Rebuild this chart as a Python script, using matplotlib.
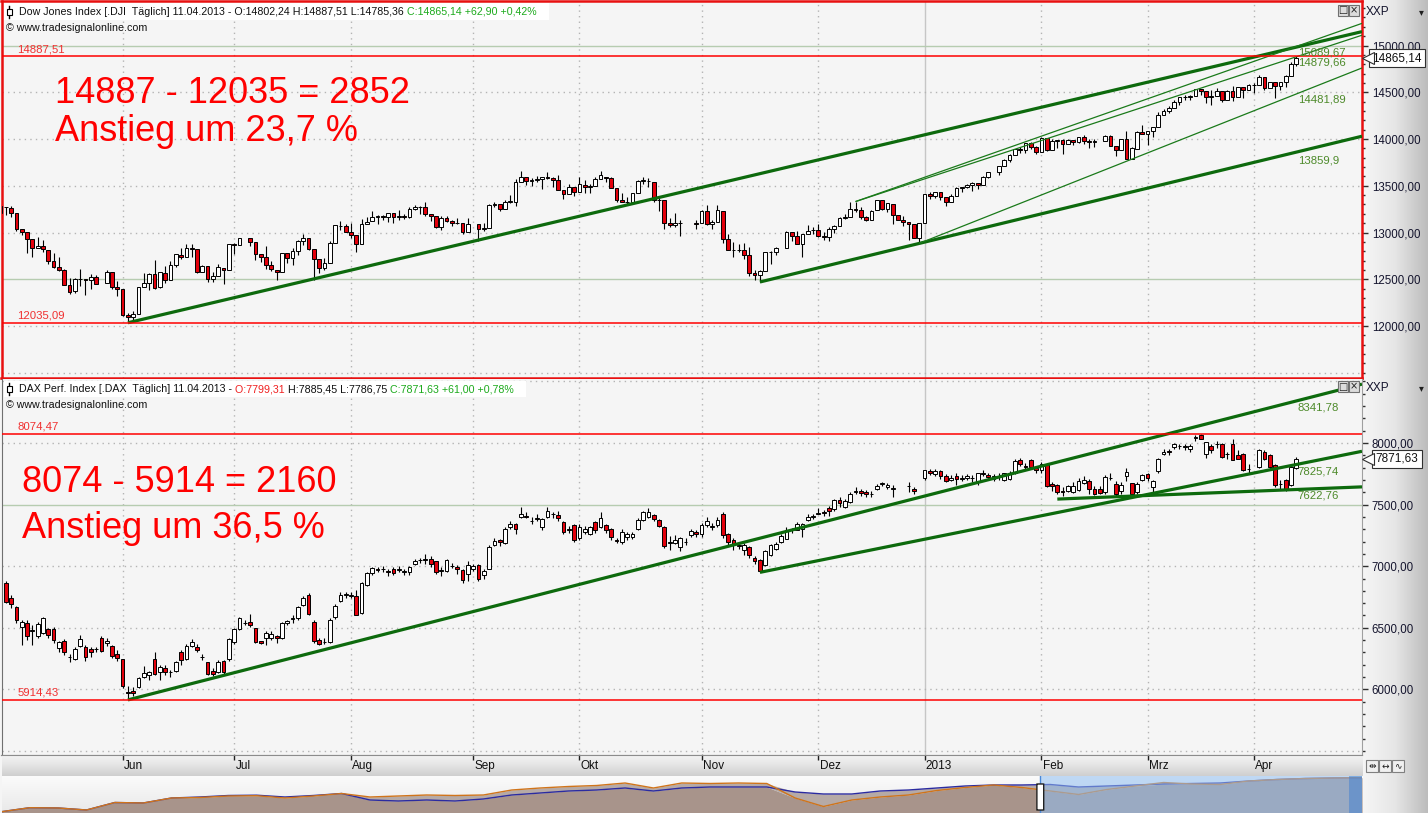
import numpy as np
import pandas as pd
import matplotlib
matplotlib.use('Agg')
import matplotlib.pyplot as plt
from matplotlib.patches import Rectangle, FancyBboxPatch
from matplotlib.ticker import FixedLocator, FuncFormatter
from matplotlib.colors import LinearSegmentedColormap
import matplotlib.transforms as mtrans

plt.rcParams['font.family'] = ['Liberation Sans', 'DejaVu Sans']

# ------------------------------------------------------------------ data
start_date, end_date = '2012-05-01', '2013-04-11'
closed_both = ['2012-12-25', '2013-01-01', '2013-03-29']
month_labels = ['Jun', 'Jul', 'Aug', 'Sep', 'Okt', 'Nov', 'Dez', '2013', 'Feb', 'Mrz', 'Apr']

N = None
dji_open = ([13214,13276,13266,13204,13036,13006,12929,12836,12853,12818,12694,12631,12597,12444,12370,12504,12501,12496,12528,N,12457,12576,12418]
 + [12391,12118,12100,12128,12416,12460,12555,12413,12572,12497,12652,12762,12743,12837,12823,12574,12638,12502,12535,12623,12604]
 + [12879,12871,N,12941,12895,12770,12736,12653,12604,12573,12776,12727,12805,12909,12941,12821,12720,12617,12677,12889,13075,13072]
 + [13010,12974,12880,13096,13118,13166,13174,13163,13206,13171,13172,13166,13251,13274,13272,13203,13172,13055,13158,13123,13103,13105,13002]
 + [N,13090,13036,13046,13292,13306,13254,13323,13329,13540,13591,13553,13563,13576,13597,13578,13559,13457,13413,13485]
 + [13437,13513,13482,13494,13569,13594,13583,13473,13346,13326,13329,13423,13551,13555,13545,13344,13343,13104,13078,13102,N,N,13107]
 + [13099,13232,13092,13112,13228,12932,12811,12815,12811,12757,12570,12542,12590,12794,12788,N,12837,13007,12966,12876,12987,13023]
 + [13027,12966,12953,13033,13073,13155,13169,13247,13244,13170,13135,13236,13350,13250,13308,13190,13138,13114,13094,12938]
 + [13104,13413,13391,13436,13384,13329,13391,13472,13488,13506,13533,13511,13596,N,13650,13712,13779,13825,13895,13881,13954,13910]
 + [13861,14006,13880,13979,13987,13945,13993,13970,14018,13981,13973,N,13982,14035,13928,13881,14001,13784,13897,14076]
 + [14054,14090,14127,14253,14296,14329,14397,14448,14450,14455,14539,14511,14451,14456,14511,14422,14512,14448,14558,14527]
 + [14578,14573,14662,14551,14606,14565,14614,14675,14802])
dji_high = ([13338,13276,13283,13204,13043,13006,12929,12950,12920,12818,12781,12743,12615,12510,12517,12614,12501,12555,12547,N,12603,12576,12485]
 + [12391,12140,12160,12418,12571,12562,12711,12582,12646,12698,12769,12836,12872,12880,12823,12656,12638,12574,12658,12623,12880]
 + [12887,12943,N,12941,12895,12771,12853,12698,12604,12785,12776,12833,12925,12980,12941,12821,12720,12726,12906,13079,13118,13094]
 + [13099,12974,13140,13166,13229,13187,13189,13208,13206,13241,13195,13273,13290,13284,13330,13203,13172,13177,13182,13138,13158,13105,13157]
 + [N,13094,13100,13302,13324,13306,13348,13397,13573,13653,13591,13583,13608,13597,13647,13590,13620,13457,13522,13485]
 + [13598,13567,13518,13594,13661,13594,13592,13478,13422,13380,13426,13562,13591,13588,13545,13368,13343,13155,13205,13132,N,N,13129]
 + [13244,13290,13138,13290,13228,12988,12900,12872,12891,12848,12603,12598,12796,12801,12847,N,13011,13007,13020,12985,13079,13057]
 + [13088,13007,13062,13085,13161,13202,13331,13331,13268,13174,13240,13353,13351,13311,13308,13190,13178,13114,13094,13105]
 + [13412,13430,13436,13436,13384,13409,13492,13488,13520,13542,13533,13606,13651,N,13713,13790,13843,13896,13915,13961,13967,13923]
 + [14020,14006,14002,13988,13995,14003,13993,14026,14039,14000,14004,N,14046,14040,13928,14001,14084,13913,14085,14150]
 + [14090,14131,14286,14320,14354,14414,14448,14467,14474,14539,14539,14511,14520,14546,14512,14522,14563,14560,14558,14585]
 + [14598,14684,14663,14611,14606,14614,14687,14826,14888])
dji_low = ([13175,13185,13170,13021,12970,12784,12743,12830,12787,12662,12619,12586,12442,12343,12358,12433,12327,12400,12450,N,12456,12393,12321]
 + [12107,12035,12061,12128,12416,12390,12399,12411,12463,12488,12630,12718,12742,12733,12567,12574,12475,12470,12535,12449,12604]
 + [12773,12871,N,12853,12707,12688,12609,12588,12492,12573,12675,12654,12761,12868,12815,12492,12570,12604,12677,12889,13029,13003]
 + [12940,12789,12880,13096,13118,13094,13139,13112,13105,13134,13140,13151,13237,13199,13176,13120,13044,13026,13115,13067,13088,12986,13002]
 + [N,12905,13014,13046,13272,13228,13254,13317,13284,13540,13508,13497,13538,13465,13574,13490,13457,13363,13413,13388]
 + [13437,13420,13422,13494,13568,13543,13473,13327,13326,13293,13329,13423,13522,13490,13326,13235,13035,13063,13060,12965,N,N,13038]
 + [13099,13079,13040,13112,12883,12811,12743,12796,12719,12536,12493,12471,12590,12661,12763,N,12837,12909,12878,12743,12987,12979]
 + [12955,12917,12912,12994,13073,13144,13169,13221,13144,13122,13135,13236,13245,13219,13093,13138,13069,12924,12938,12884]
 + [13104,13358,13368,13343,13279,13329,13391,13430,13474,13441,13468,13511,13586,N,13613,13712,13756,13825,13849,13852,13889,13844]
 + [13861,13873,13880,13904,13836,13943,13931,13960,13952,13900,13918,N,13981,13927,13822,13881,13784,13784,13897,14053]
 + [13937,14019,14127,14253,14280,14329,14369,14414,14417,14455,14470,14384,14368,14456,14394,14422,14405,14448,14439,14527]
 + [14497,14573,14524,14545,14444,14528,14560,14675,14785])
dji_close = ([13279,13268,13206,13038,13008,12932,12835,12855,12820,12695,12632,12598,12442,12369,12504,12502,12496,12529,12454,N,12580,12419,12393]
 + [12118,12101,12127,12414,12461,12554,12411,12573,12496,12651,12767,12742,12837,12824,12574,12641,12503,12535,12627,12602,12880]
 + [12871,12943,N,12897,12772,12736,12653,12605,12573,12777,12727,12806,12909,12943,12822,12721,12617,12676,12888,13076,13073,13009]
 + [12976,12878,13096,13117,13169,13175,13165,13208,13170,13172,13164,13250,13275,13271,13203,13172,13057,13158,13124,13103,13107,13001,13091]
 + [N,13036,13047,13292,13307,13254,13323,13333,13540,13593,13553,13565,13577,13597,13579,13559,13458,13413,13485,13437]
 + [13515,13482,13495,13575,13610,13583,13473,13344,13326,13329,13424,13551,13557,13548,13343,13345,13102,13077,13103,13107,N,N,13096]
 + [13232,13093,13112,13245,12932,12811,12815,12815,12756,12570,12542,12588,12795,12788,12836,N,13010,12967,12878,12985,13021,13025]
 + [12965,12951,13034,13074,13155,13169,13248,13245,13170,13135,13235,13351,13251,13311,13190,13139,13114,13096,12938,13104]
 + [13412,13391,13435,13384,13329,13390,13471,13488,13507,13535,13511,13596,13650,N,13712,13779,13825,13896,13882,13954,13910,13861]
 + [14010,13880,13979,13987,13944,13993,13971,14019,13982,13973,13981,N,14036,13928,13881,14001,13784,13900,14076,14054]
 + [14090,14128,14254,14296,14329,14397,14448,14450,14455,14539,14514,14452,14456,14512,14421,14512,14448,14560,14527,14579]
 + [14573,14662,14550,14607,14565,14614,14673,14802,14865])

dax_open = ([N,6860,6745,6672,6505,6540,6475,6430,6455,6490,6490,6335,6395,6265,6246,6350,6346,6327,6325,6416,6380,6354,6287]
 + [6246,5975,5990,6021,6102,6118,6246,6137,6173,6140,6151,6300,6246,6354,6346,6262,6219,6151,6137,6227,6243]
 + [6386,6494,6540,6550,6496,6390,6414,6420,6430,6420,6537,6575,6578,6686,6767,6550,6400,6385,6384,6586,6716,6770]
 + [6755,6757,6620,6851,6945,6975,6975,6965,6978,6970,6955,6950,7020,7050,7050,7060,7040,6960,6960,7005,6995,6968,6935]
 + [6975,7008,6927,6981,7176,7210,7189,7319,7346,7400,7410,7370,7380,7319,7400,7420,7413,7359,7305,7332]
 + [7225,7278,7265,7359,7319,7332,7305,7216,7197,7238,7240,7300,7373,7400,7413,7373,7319,7185,7189,7157,7200,7257,7280]
 + [7259,7332,7320,7332,7427,7265,7216,7165,7130,7157,7067,7048,7008,7089,7143,7197,7224,7295,7297,7305,7373,7400]
 + [7427,7440,7475,7467,7540,7481,7521,7600,7610,7600,7590,7625,7665,7643,7630,N,N,7650,7630,N]
 + [7720,7770,7750,7770,7730,7700,7730,7710,7720,7720,7684,7754,7740,7705,7725,7700,7712,7754,7860,7815,7860,7800]
 + [7780,7833,7670,7660,7610,7610,7600,7620,7673,7695,7630,7630,7600,7720,7670,7610,7730,7673,7600,7700]
 + [7745,7646,7770,7910,7935,7965,7980,7965,7955,8040,8063,7914,7973,7990,7989,7910,7989,7900,7914,7790]
 + [N,7806,7927,7900,7819,7670,7700,7657,7799])
dax_high = ([N,6880,6765,6680,6560,6560,6520,6545,6590,6500,6510,6390,6410,6290,6340,6440,6360,6345,6345,6430,6420,6360,6320]
 + [6250,6030,6020,6100,6190,6150,6300,6200,6195,6160,6230,6320,6365,6410,6370,6290,6225,6175,6235,6235,6420]
 + [6500,6590,6560,6615,6500,6395,6470,6470,6440,6545,6565,6600,6680,6760,6780,6560,6420,6420,6580,6690,6790,6790]
 + [6790,6810,6870,6950,6990,6990,7000,6975,6990,7000,6975,7000,7060,7070,7100,7080,7045,6990,7060,7030,7010,6980,7040]
 + [7015,7020,6975,7170,7230,7220,7320,7370,7350,7478,7440,7400,7420,7395,7478,7440,7450,7365,7330,7345]
 + [7340,7330,7330,7370,7440,7340,7310,7225,7300,7280,7275,7390,7450,7470,7420,7380,7325,7245,7250,7240,7230,7300,7295]
 + [7350,7400,7350,7400,7440,7270,7225,7200,7190,7165,7080,7060,7130,7180,7200,7260,7315,7310,7360,7350,7420,7425]
 + [7470,7460,7490,7545,7560,7545,7600,7640,7625,7615,7610,7665,7685,7675,7660,N,N,7680,7645,N]
 + [7785,7790,7790,7780,7750,7740,7760,7740,7750,7740,7760,7780,7760,7745,7760,7760,7770,7870,7875,7840,7870,7815]
 + [7850,7840,7680,7670,7640,7660,7680,7720,7730,7710,7650,7650,7740,7760,7690,7680,7800,7675,7680,7750]
 + [7760,7700,7880,7950,7950,8000,7990,7990,7990,8065,8074,8010,7995,8020,8000,7930,8030,7940,7920,7830]
 + [N,7950,7945,7910,7830,7700,7705,7820,7885])
dax_low = ([N,6700,6660,6540,6358,6400,6360,6420,6450,6420,6380,6300,6280,6220,6240,6340,6230,6260,6300,6300,6350,6255,6230]
 + [6010,5914,5950,6010,6090,6080,6120,6080,6120,6100,6140,6200,6240,6340,6300,6240,6120,6110,6130,6120,6230]
 + [6370,6480,6520,6505,6380,6370,6360,6400,6380,6410,6520,6540,6560,6680,6600,6380,6360,6370,6380,6570,6710,6740]
 + [6740,6600,6610,6840,6930,6950,6950,6920,6930,6950,6930,6930,7010,7030,7020,6990,6940,6920,6950,6985,6935,6860,6880]
 + [6960,6880,6900,6975,7160,7160,7180,7300,7260,7390,7390,7340,7370,7290,7395,7390,7370,7260,7270,7200]
 + [7215,7260,7250,7270,7310,7270,7210,7190,7180,7215,7220,7295,7365,7390,7370,7315,7150,7130,7180,7120,7170,7240,7240]
 + [7240,7320,7290,7320,7230,7170,7130,7140,7090,7070,7020,6950,7000,7080,7130,7190,7230,7270,7290,7240,7365,7385]
 + [7420,7410,7410,7450,7480,7470,7515,7590,7570,7565,7565,7620,7650,7630,7560,N,N,7600,7590,N]
 + [7700,7740,7730,7710,7680,7690,7660,7690,7700,7680,7660,7730,7700,7690,7700,7690,7700,7750,7815,7780,7790,7760]
 + [7760,7640,7610,7590,7570,7600,7595,7610,7670,7590,7580,7585,7590,7700,7570,7590,7690,7570,7590,7690]
 + [7690,7600,7760,7900,7900,7950,7950,7940,7930,8020,8030,7880,7920,7960,7880,7870,7860,7880,7770,7760]
 + [N,7800,7860,7790,7640,7620,7610,7650,7787])
dax_close = ([N,6710,6694,6561,6548,6430,6480,6530,6579,6440,6398,6385,6300,6262,6327,6410,6262,6300,6330,6308,6392,6273,6251]
 + [6030,5970,5969,6092,6132,6137,6124,6184,6137,6139,6219,6238,6354,6386,6319,6260,6124,6124,6219,6137,6405]
 + [6494,6576,6537,6523,6387,6380,6454,6450,6420,6537,6555,6578,6672,6745,6612,6396,6370,6386,6567,6675,6770,6772]
 + [6770,6604,6862,6945,6985,6970,6978,6955,6945,6975,6957,6990,7045,7052,7060,7017,6950,6971,7047,7000,6975,6886,7008]
 + [7000,6900,6962,7157,7205,7200,7305,7346,7305,7427,7403,7365,7389,7386,7451,7425,7390,7278,7292,7216]
 + [7319,7305,7319,7292,7395,7292,7238,7205,7278,7265,7262,7377,7440,7437,7386,7328,7160,7196,7211,7225,7198,7289,7260]
 + [7335,7365,7325,7378,7251,7197,7170,7169,7170,7089,7043,6958,7124,7170,7183,7245,7290,7292,7344,7340,7398,7405]
 + [7435,7434,7448,7534,7517,7530,7589,7614,7596,7586,7584,7655,7672,7660,7636,N,N,7655,7612,N]
 + [7779,7756,7776,7732,7695,7720,7708,7715,7729,7717,7754,7745,7725,7730,7722,7754,7759,7857,7833,7805,7806,7779]
 + [7833,7650,7650,7600,7605,7652,7652,7690,7700,7630,7590,7595,7728,7718,7590,7660,7765,7587,7668,7740]
 + [7718,7695,7870,7930,7930,7992,7975,7978,7980,8049,8036,8008,7946,7995,7887,7914,7860,7873,7779,7792]
 + [N,7941,7873,7806,7657,7670,7630,7806,7872])

# trend lines: (start bar, start value, bar 244, value at last bar)
dji_trend_thick = [(24, 12035.09, 244, 14983.0), (143, 12471.0, 244, 13859.9)]
dji_trend_thin = [(161, 13331.0, 244, 14879.66), (173, 12884.0, 244, 14481.89), (161, 13331.0, 244, 14990.0)]
dax_trend_thick = [(24, 5914.43, 244, 8341.78), (143, 6950.0, 244, 7825.74), (199, 7545.0, 244, 7622.76)]
dji_line_values = [15089.67, 14879.66, 14481.89, 13859.9]
dji_label_anchor = [14995.0, 14879.66, 14481.89, 13859.9]
dax_line_values = [8341.78, 7825.74, 7622.76]
dji_extremes = [14887.51, 12035.09]
dax_extremes = [8074.47, 5914.43]
dji_last, dax_last = 14865.14, 7871.63

# overview strip (relative performance, read from the navigator)
ov_orange = [1.3,5.3,5,3,10.5,10,15,15.5,17,17.3,15,17,19.5,16,17,18,17.5,18,23,25,26.5,27.5,30,25,30,
             29.5,30,29.5,15,6.5,13,16,18,22.5,25.5,28,25.5,22,18.5,23.5,27,30.5,29,28.5,32,33.5,34.5,35,35.3]
ov_blue = [1.3,5.3,5,3,10.5,10,15,16,17.5,17.8,16,17.5,19.5,13,12,13,12,14,18,20,22,23,25,22,25,
           26,26,26,21,19,19,22,23,25,27,28,28,28.5,26,27,28,29,29.5,30,32,33.5,34.5,35,35.3]
ov_window_start = 36.65

# ------------------------------------------------------------------ layout
W, H = 1428, 813
fig = plt.figure(figsize=(W / 100, H / 100), dpi=100, facecolor='#f5f5f5')


def box(x0, y0, x1, y1):
    return [x0 / W, 1 - y1 / H, (x1 - x0) / W, (y1 - y0) / H]


def fx(x):
    return x / W


def fy(y):
    return 1 - y / H


dates = pd.bdate_range(start_date, end_date).drop(pd.to_datetime(closed_both))
n = len(dates)
for arr in (dji_open, dji_high, dji_low, dji_close, dax_open, dax_high, dax_low, dax_close):
    assert len(arr) == n, (len(arr), n)
mon = dates.to_period('M')
first = [i for i in range(1, n) if mon[i] != mon[i - 1]]

XLIM = (0.19, 256.37)
GREEN_THICK = '#0d6a0d'
GREEN_THIN = '#1a7a1a'
LABEL_GREEN = '#4d8a2a'
RED = '#ff0000'

# right axis gradient strip
axr = fig.add_axes(box(1362, 0, 1428, 813), zorder=0)
cm = LinearSegmentedColormap.from_list('g', ['#f6f6f6', '#e6e6e6', '#bcbcbc'])
axr.imshow(np.linspace(0, 1, 200)[None, :], aspect='auto', cmap=cm, extent=[0, 1, 0, 1])
axr.set_xlim(0, 1)
axr.set_ylim(0, 1)
axr.axis('off')


def make_panel(rect, o, h, l, c, ylim, labeled, solid, minor_range):
    ax = fig.add_axes(rect, zorder=2)
    ax.set_facecolor('#f5f5f5')
    ax.set_xlim(*XLIM)
    ax.set_ylim(*ylim)
    for k, p in enumerate(first):
        if month_labels[k] == '2013':
            ax.axvline(p, color='#c6c6c6', lw=1.0, zorder=1)
        else:
            ax.axvline(p, color='#b4b4b4', lw=1.0, ls=(0, (1, 3)), zorder=1)
    for lev in np.arange(labeled[0] - 1000, labeled[1] + 1001, 500):
        if lev in solid:
            ax.axhline(lev, color='#b6ccb0', lw=1.0, zorder=1)
        else:
            ax.axhline(lev, color='#b4b4b4', lw=1.0, ls=(0, (1, 3)), zorder=1)
    xs = [i for i in range(n) if o[i] is not None]
    O = np.array([o[i] for i in xs], float)
    Hh = np.array([h[i] for i in xs], float)
    L = np.array([l[i] for i in xs], float)
    C = np.array([c[i] for i in xs], float)
    X = np.array(xs, float)
    ax.vlines(X, L, Hh, color='black', lw=0.8, zorder=3)
    up = C >= O
    ax.bar(X[up], C[up] - O[up], bottom=O[up], width=0.7, facecolor='white',
           edgecolor='black', linewidth=0.7, zorder=4)
    ax.bar(X[~up], O[~up] - C[~up], bottom=C[~up], width=0.7, facecolor='#e3000b',
           edgecolor='black', linewidth=0.7, zorder=4)
    ax.yaxis.tick_right()
    ax.yaxis.set_major_locator(FixedLocator(list(range(labeled[0], labeled[1] + 1, 500))))
    ax.yaxis.set_minor_locator(FixedLocator(list(range(minor_range[0], minor_range[1], 100))))
    ax.yaxis.set_major_formatter(FuncFormatter(lambda v, p: f'{v:.2f}'.replace('.', ',')))
    ax.tick_params(axis='y', which='major', length=4, width=1, pad=3, labelsize=8.3,
                   labelcolor='#15152e', color='#303030')
    ax.tick_params(axis='y', which='minor', length=2.5, width=1, color='#303030')
    ax.tick_params(axis='x', which='both', bottom=False, top=False, labelbottom=False)
    return ax


def trend(ax, seg, lw, color):
    x0, v0, x1, v1 = seg
    s = (v1 - v0) / (x1 - x0)
    xe = XLIM[1]
    ax.plot([x0, xe], [v0, v0 + s * (xe - x0)], color=color, lw=lw,
            solid_capstyle='butt', zorder=5)


def level_labels(ax, values, anchors, offsets):
    for v, a, d in zip(values, anchors, offsets):
        ax.annotate(str(v).replace('.', ','), xy=(244.3, a), xytext=(0, -d),
                    textcoords='offset pixels', ha='left', va='center',
                    fontsize=8.2, color=LABEL_GREEN, zorder=7)


def extremes(ax, values):
    for v in values:
        ax.axhline(v, color=RED, lw=1.1, zorder=6)
        ax.annotate(f'{v:.2f}'.replace('.', ','), xy=(3.2, v), xytext=(0, 7),
                    textcoords='offset pixels', ha='left', va='center',
                    fontsize=8.2, color='#f03030', zorder=7)


def price_box(ax, v):
    tr = mtrans.blended_transform_factory(fig.transFigure, ax.transData)
    ax.text(fx(1397), v, f'{v:.2f}'.replace('.', ','), transform=tr, ha='center', va='center',
            fontsize=8.5, color='#101010', clip_on=False, zorder=20,
            bbox=dict(boxstyle='square,pad=0.28', fc='white', ec='#303030', lw=0.8))
    ax.plot([fx(1368)], [v], marker='<', ms=8, mfc='white', mec='#303030', mew=0.8,
            transform=tr, clip_on=False, zorder=21)


# ---------------- top panel (Dow Jones)
ax1 = make_panel(box(1.5, 1.5, 1362, 378), dji_open, dji_high, dji_low, dji_close,
                 (11444, 15471), (12000, 15000), (12500, 15000), (11500, 15500))
for sp in ax1.spines.values():
    sp.set_color('#e81010')
    sp.set_linewidth(1.8)
for seg in dji_trend_thick:
    trend(ax1, seg, 2.3, GREEN_THICK)
for seg in dji_trend_thin:
    trend(ax1, seg, 0.9, GREEN_THIN)
level_labels(ax1, dji_line_values, dji_label_anchor, [6, 6, 6, 8])
extremes(ax1, dji_extremes)
price_box(ax1, dji_last)

# ---------------- bottom panel (DAX)
ax2 = make_panel(box(1.5, 379, 1362, 755), dax_open, dax_high, dax_low, dax_close,
                 (5467, 8520), (6000, 8000), (7500,), (5500, 8600))
ax2.spines['top'].set_visible(False)
ax2.spines['left'].set_color('#707070')
ax2.spines['right'].set_color('#a0a0a0')
ax2.spines['bottom'].set_color('#909090')
for seg in dax_trend_thick:
    trend(ax2, seg, 2.3, GREEN_THICK)
level_labels(ax2, dax_line_values, dax_line_values, [7, 7, 6])
extremes(ax2, dax_extremes)
price_box(ax2, dax_last)

# ---------------- date band
axd = fig.add_axes(box(1.5, 755, 1362, 776), zorder=2)
cmb = LinearSegmentedColormap.from_list('b', ['#f4f4f4', '#e4e4e4', '#cfcfcf'])
axd.imshow(np.linspace(0, 1, 50)[:, None], aspect='auto', cmap=cmb,
           extent=[XLIM[0], XLIM[1], 0, 1], zorder=0)
axd.set_xlim(*XLIM)
axd.set_ylim(0, 1)
axd.vlines(first, 0.74, 1.0, color='#202020', lw=1.0, zorder=2)
for p, lab in zip(first, month_labels):
    axd.text(p + 0.25, 0.47, lab, ha='left', va='center', fontsize=8.5, color='#101010', zorder=3)
axd.set_xticks([])
axd.set_yticks([])
for k, sp in axd.spines.items():
    sp.set_visible(k == 'top')
axd.spines['top'].set_color('#8c8c8c')

# ---------------- overview navigator
axo = fig.add_axes(box(1.5, 776, 1362, 813), zorder=2)
cmo = LinearSegmentedColormap.from_list('o', ['#fbfbfb', '#e9e9e9'])
ov_x = np.arange(len(ov_orange))
axo.set_xlim(0, len(ov_orange) - 1)
axo.set_ylim(0, 37)
axo.imshow(np.linspace(0, 1, 50)[:, None], aspect='auto', cmap=cmo,
           extent=[0, len(ov_orange) - 1, 0, 37], zorder=0)
oa, ob = np.array(ov_orange), np.array(ov_blue)
axo.fill_between(ov_x, 0, np.minimum(oa, ob), color='#a8948b', lw=0, zorder=1)
axo.fill_between(ov_x, np.minimum(oa, ob), np.maximum(oa, ob), color='#b6aaa6', lw=0, zorder=1)
axo.plot(ov_x, ob, color='#2b2ba0', lw=1.0, zorder=2)
axo.plot(ov_x, oa, color='#d0741a', lw=1.0, zorder=3)
axo.axvspan(ov_window_start, len(ov_orange) - 1, color='#8fbdf0', alpha=0.55, lw=0, zorder=4)
axo.axvspan(len(ov_orange) - 1.45, len(ov_orange) - 1, color='#3f7fd0', alpha=0.5, lw=0, zorder=4)
axo.axvline(ov_window_start, color='#4a88d8', lw=1.0, zorder=5)
axo.add_patch(FancyBboxPatch((ov_window_start - 0.1, 3), 0.2, 26,
                             boxstyle='round,pad=0.02,rounding_size=0.1',
                             fc='white', ec='#202020', lw=1.0, zorder=6))
axo.set_xticks([])
axo.set_yticks([])
for sp in axo.spines.values():
    sp.set_visible(False)

# ---------------- header texts
renderer = fig.canvas.get_renderer()


def seq_text(x, y, parts, size=7.7):
    for s, col in parts:
        t = fig.text(fx(x), fy(y), s, color=col, fontsize=size, ha='left', va='center', zorder=12)
        x += t.get_window_extent(renderer).width


def candle_icon(x, y):
    fig.add_artist(plt.Line2D([fx(x), fx(x)], [fy(y - 6), fy(y + 6)], color='black', lw=1,
                              transform=fig.transFigure, zorder=12))
    fig.add_artist(Rectangle((fx(x - 2.5), fy(y + 3)), 5 / W, 6 / H, fc='white', ec='black', lw=0.8,
                             transform=fig.transFigure, zorder=13))


def buttons(y):
    for x0, sym in ((1338, '\u25a1'), (1349, '\u00d7')):
        fig.add_artist(Rectangle((fx(x0), fy(y + 11)), 10 / W, 11 / H, fc='#dcdcdc', ec='#707070',
                                 lw=0.8, transform=fig.transFigure, zorder=12))
        fig.text(fx(x0 + 5), fy(y + 5.5), sym, ha='center', va='center', fontsize=7,
                 color='#202020', zorder=13, family='DejaVu Sans')


def axis_title(y):
    fig.text(fx(1366), fy(y), 'XXP', ha='left', va='center', fontsize=8.5, color='#15152e', zorder=12)
    fig.text(fx(1421), fy(y), '\u25be', ha='center', va='center', fontsize=7, color='#202020',
             zorder=12, family='DejaVu Sans')


fig.add_artist(Rectangle((fx(4), fy(20)), 545 / W, 17 / H, fc='white', ec='none',
                         transform=fig.transFigure, zorder=11))
candle_icon(9, 12)
seq_text(19, 12, [('Dow Jones Index [.DJI  T\u00e4glich] 11.04.2013 - O:14802,24 H:14887,51 L:14785,36', '#101010'),
                  (' C:14865,14 +62,90 +0,42%', '#1caa1c')])
fig.text(fx(6), fy(28), '\u00a9 www.tradesignalonline.com', ha='left', va='center', fontsize=7.7,
         color='#101010', zorder=12)
buttons(5)
axis_title(12)

fig.add_artist(Rectangle((fx(4), fy(397)), 522 / W, 16 / H, fc='white', ec='none',
                         transform=fig.transFigure, zorder=11))
candle_icon(9, 389)
seq_text(19, 389, [('DAX Perf. Index [.DAX  T\u00e4glich] 11.04.2013 -', '#101010'),
                   (' O:7799,31', '#f02020'),
                   (' H:7885,45 L:7786,75', '#101010'),
                   (' C:7871,63 +61,00 +0,78%', '#1caa1c')])
fig.text(fx(6), fy(405), '\u00a9 www.tradesignalonline.com', ha='left', va='center', fontsize=7.7,
         color='#101010', zorder=12)
buttons(381)
axis_title(388)

# navigator buttons
for i, sym in enumerate(['\u21f9', '\u2194', '\u223f']):
    x0 = 1366 + i * 13
    fig.add_artist(Rectangle((fx(x0), fy(772)), 12 / W, 12 / H, fc='#f0f0f0', ec='#808080', lw=0.8,
                             transform=fig.transFigure, zorder=12))
    fig.text(fx(x0 + 6), fy(766), sym, ha='center', va='center', fontsize=6.5, color='#202020',
             zorder=13, family='DejaVu Sans')

# big red annotations
big = 26
fig.text(fx(55), fy(103), '14887 - 12035 = 2852', fontsize=big, color=RED, va='baseline', zorder=12)
fig.text(fx(55), fy(141), 'Anstieg um 23,7 %', fontsize=big, color=RED, va='baseline', zorder=12)
fig.text(fx(22), fy(492), '8074 - 5914 = 2160', fontsize=big, color=RED, va='baseline', zorder=12)
fig.text(fx(22), fy(538), 'Anstieg um 36,5 %', fontsize=big, color=RED, va='baseline', zorder=12)

fig.savefig('out.png', dpi=100, facecolor=fig.get_facecolor())
